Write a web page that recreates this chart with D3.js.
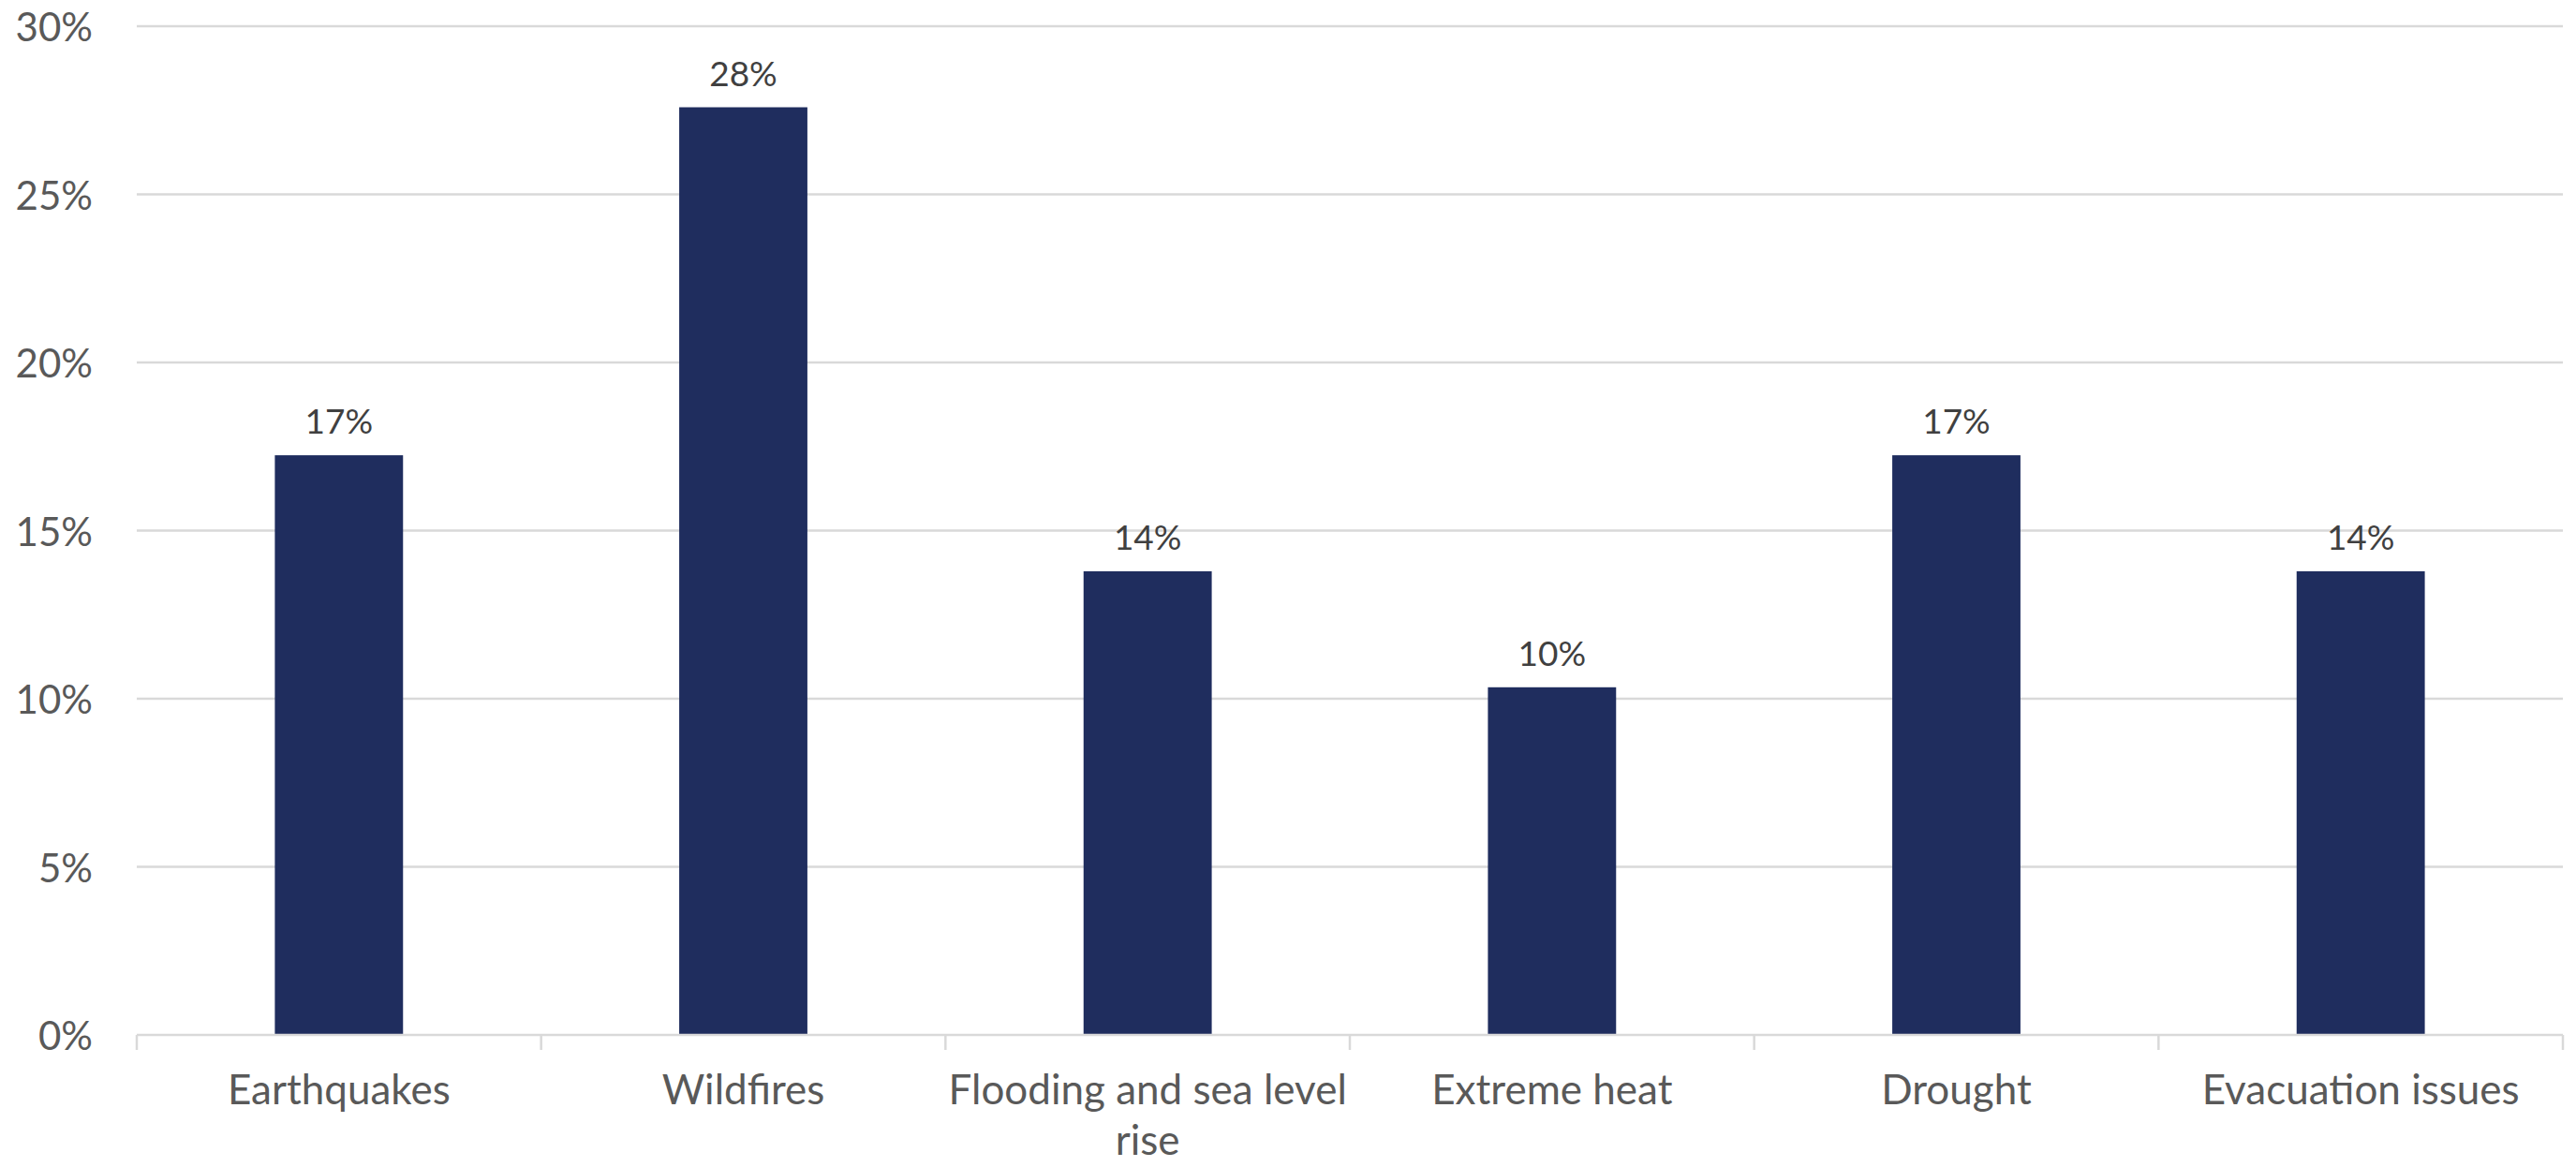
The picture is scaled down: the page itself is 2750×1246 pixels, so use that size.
<!DOCTYPE html>
<html>
<head>
<meta charset="utf-8">
<script src="https://cdn.jsdelivr.net/npm/d3@7"></script>
<style>
  html, body { margin: 0; padding: 0; background: #ffffff; }
  svg { display: block; }
  text { font-family: Lato, "Open Sans", sans-serif; }
</style>
</head>
<body>
<svg id="chart" width="2750" height="1246"></svg>
<script>
const categories = ["Earthquakes", "Wildfires", "Flooding and sea level rise", "Extreme heat", "Drought", "Evacuation issues"];
const values = [0.1724, 0.2759, 0.1379, 0.1034, 0.1724, 0.1379];
const valueLabels = ["17%", "28%", "14%", "10%", "17%", "14%"];
const yTicks = [0, 0.05, 0.10, 0.15, 0.20, 0.25, 0.30];
const yTickLabels = ["0%", "5%", "10%", "15%", "20%", "25%", "30%"];

const svg = d3.select("#chart");
const plotLeft = 146, plotRight = 2736, plotTop = 28, plotBottom = 1105;

const x = d3.scaleBand().domain(categories).range([plotLeft, plotRight])
  .paddingInner(0.683).paddingOuter(0.3415);
const y = d3.scaleLinear().domain([0, 0.30]).range([plotBottom, plotTop]);
const step = x.step();

// gridlines
svg.append("g").selectAll("line").data(yTicks.filter(d => d > 0)).join("line")
  .attr("x1", plotLeft).attr("x2", plotRight)
  .attr("y1", d => y(d)).attr("y2", d => y(d))
  .attr("stroke", "#d9d9d9").attr("stroke-width", 2.5);

// y axis labels
svg.append("g").selectAll("text").data(yTicks).join("text")
  .attr("x", 99).attr("y", d => y(d))
  .attr("text-anchor", "end").attr("dominant-baseline", "central")
  .attr("font-size", 42).attr("fill", "#595959")
  .text((d, i) => yTickLabels[i]);

// bars
svg.append("g").selectAll("rect").data(categories).join("rect")
  .attr("x", d => x(d)).attr("width", x.bandwidth())
  .attr("y", (d, i) => y(values[i]))
  .attr("height", (d, i) => y(0) - y(values[i]))
  .attr("fill", "#1f2d5e");

// data labels
svg.append("g").selectAll("text").data(categories).join("text")
  .attr("x", d => x(d) + x.bandwidth() / 2)
  .attr("y", (d, i) => y(values[i]) - 23)
  .attr("text-anchor", "middle")
  .attr("font-size", 37).attr("fill", "#404040")
  .text((d, i) => valueLabels[i]);

// x axis line
svg.append("line").attr("x1", plotLeft).attr("x2", plotRight)
  .attr("y1", plotBottom).attr("y2", plotBottom)
  .attr("stroke", "#d9d9d9").attr("stroke-width", 2.5);

// category boundary ticks
const boundaries = d3.range(categories.length + 1).map(i => plotLeft + i * step);
svg.append("g").selectAll("line").data(boundaries).join("line")
  .attr("x1", d => d).attr("x2", d => d)
  .attr("y1", plotBottom).attr("y2", plotBottom + 16)
  .attr("stroke", "#d9d9d9").attr("stroke-width", 2.5);

// category labels with wrapping
const catG = svg.append("g");
categories.forEach(c => {
  const cx = x(c) + x.bandwidth() / 2;
  const t = catG.append("text")
    .attr("x", cx).attr("y", 1179)
    .attr("text-anchor", "middle")
    .attr("font-size", 44).attr("fill", "#595959");
  const words = c.split(" ");
  let line = [];
  let tspan = t.append("tspan").attr("x", cx).attr("dy", 0);
  words.forEach(w => {
    line.push(w);
    tspan.text(line.join(" "));
    if (tspan.node().getComputedTextLength() > step - 4 && line.length > 1) {
      line.pop();
      tspan.text(line.join(" "));
      line = [w];
      tspan = t.append("tspan").attr("x", cx).attr("dy", 54).text(w);
    }
  });
});
</script>
</body>
</html>
